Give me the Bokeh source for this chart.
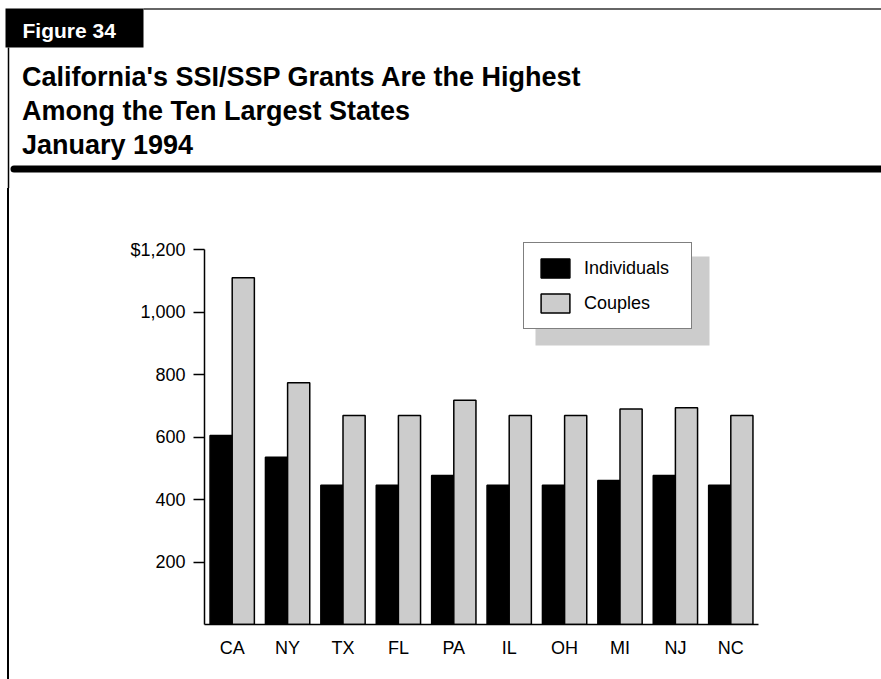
from bokeh.plotting import figure
from bokeh.layouts import column, row
from bokeh.models import ColumnDataSource, FactorRange, Range1d, FixedTicker, BoxAnnotation, Div
from bokeh.core.properties import value
from bokeh.transform import dodge
from bokeh.embed import file_html
from bokeh.resources import INLINE

# ---- data ----
states = ["CA", "NY", "TX", "FL", "PA", "IL", "OH", "MI", "NJ", "NC"]
individuals = [605, 535, 446, 446, 477, 446, 446, 461, 477, 446]
couples = [1110, 774, 669, 669, 718, 669, 669, 690, 694, 669]
series_names = ["Individuals", "Couples"]
y_ticks = [200, 400, 600, 800, 1000, 1200]
y_tick_labels = ["200", "400", "600", "800", "1,000", "$1,200"]
figure_tag = "Figure 34"
title_lines = [
    "California's SSI/SSP Grants Are the Highest",
    "Among the Ten Largest States",
    "January 1994",
]

FONT = "Liberation Sans"
W, H = 881, 679
HEADER_H = 188
STRIP_W = 12


def blank_fig(width, height, x_range, y_range):
    f = figure(width=width, height=height, x_range=x_range, y_range=y_range,
               min_border=0, output_backend="svg", toolbar_location=None, tools="",
               x_axis_location=None, y_axis_location=None)
    f.outline_line_color = None
    f.xgrid.visible = False
    f.ygrid.visible = False
    f.background_fill_color = "white"
    f.border_fill_color = "white"
    return f


# ---- header (page-pixel coordinates, y downward) ----
hdr = blank_fig(W, HEADER_H, Range1d(0, W), Range1d(HEADER_H, 0))
hdr.segment(x0=[143], y0=[8.5], x1=[W], y1=[8.5], line_color="#333333", line_width=1.5)
hdr.quad(left=[5], right=[143], top=[8], bottom=[47], fill_color="black", line_color=None)
hdr.segment(x0=[8], y0=[47], x1=[8], y1=[HEADER_H], line_color="black", line_width=1.5)
hdr.segment(x0=[13.5], y0=[168.5], x1=[W + 10], y1=[168.5], line_color="black",
            line_width=7, line_cap="round")
hdr.text(x=[22], y=[29.5], text=[figure_tag], text_color="white",
         text_font=value(FONT), text_font_style="bold", text_font_size="21px",
         text_baseline="alphabetic")
hdr.text(x=[21.5] * len(title_lines), y=[76.5, 110.5, 144.5], text=title_lines,
         text_color="black", text_font=value(FONT), text_font_style="bold",
         text_font_size="27px", text_baseline="alphabetic")

# ---- left rule strip (plain HTML, no plot frame) ----
CH = H - HEADER_H
strip = Div(width=STRIP_W, height=CH, margin=0,
            text='<div style="margin:0 0 0 7px;width:1.5px;height:%dpx;background:#000"></div>' % CH)

# ---- chart ----
src = ColumnDataSource(dict(state=states, individuals=individuals, couples=couples))

FRAME_TOP = 52
FRAME_H = 384
p = figure(
    x_range=FactorRange(factors=states, range_padding=0),
    y_range=Range1d(0, y_ticks[-1] * FRAME_H / 375.0),
    frame_width=554, frame_height=FRAME_H,
    min_border_left=192, min_border_right=W - STRIP_W - 192 - 554,
    min_border_top=FRAME_TOP, min_border_bottom=CH - FRAME_TOP - FRAME_H,
    output_backend="svg", toolbar_location=None, tools="",
)
p.outline_line_color = None
p.xgrid.visible = False
p.ygrid.visible = False
p.background_fill_color = "white"
p.border_fill_color = "white"

p.vbar(x=dodge("state", -0.2, range=p.x_range), top="individuals", width=0.4,
       source=src, fill_color="black", line_color="black", line_width=1.5,
       legend_label=series_names[0])
p.vbar(x=dodge("state", 0.2, range=p.x_range), top="couples", width=0.4,
       source=src, fill_color="#cccccc", line_color="black", line_width=1.5,
       legend_label=series_names[1])

for ax in (p.xaxis[0], p.yaxis[0]):
    ax.axis_line_width = 1.5
    ax.axis_line_color = "black"
    ax.major_label_text_font = FONT
    ax.major_label_text_font_size = "18px"
    ax.major_label_text_color = "black"
    ax.minor_tick_out = 0
    ax.minor_tick_in = 0
    ax.major_tick_in = 0
    ax.major_tick_line_width = 1.5

p.xaxis.major_tick_out = 0
p.xaxis.major_label_standoff = 13

p.yaxis.ticker = FixedTicker(ticks=y_ticks)
p.yaxis.bounds = (0, y_ticks[-1])
p.yaxis.major_label_overrides = {t: l for t, l in zip(y_ticks, y_tick_labels)}
p.yaxis.major_tick_out = 11
p.yaxis.major_label_standoff = 8

leg = p.legend[0]
leg.location = (319, 295)
leg.margin = 0
leg.padding = 13
leg.spacing = 11
leg.glyph_width = 36
leg.glyph_height = 24
leg.label_standoff = 11
leg.label_width = 94
leg.label_text_font = FONT
leg.label_text_font_size = "18px"
leg.label_text_color = "black"
leg.border_line_color = "black"
leg.border_line_width = 1.5
leg.background_fill_alpha = 1.0

# legend drop shadow (screen px relative to frame bottom-left)
p.add_layout(BoxAnnotation(left=331, right=505, bottom=279, top=368,
                           left_units="screen", right_units="screen",
                           bottom_units="screen", top_units="screen",
                           fill_color="#cccccc", fill_alpha=1.0, line_color=None,
                           level="underlay", editable=False))

layout = column(hdr, row(strip, p, spacing=0), spacing=0)
open("out.html", "w").write(file_html(layout, INLINE))
